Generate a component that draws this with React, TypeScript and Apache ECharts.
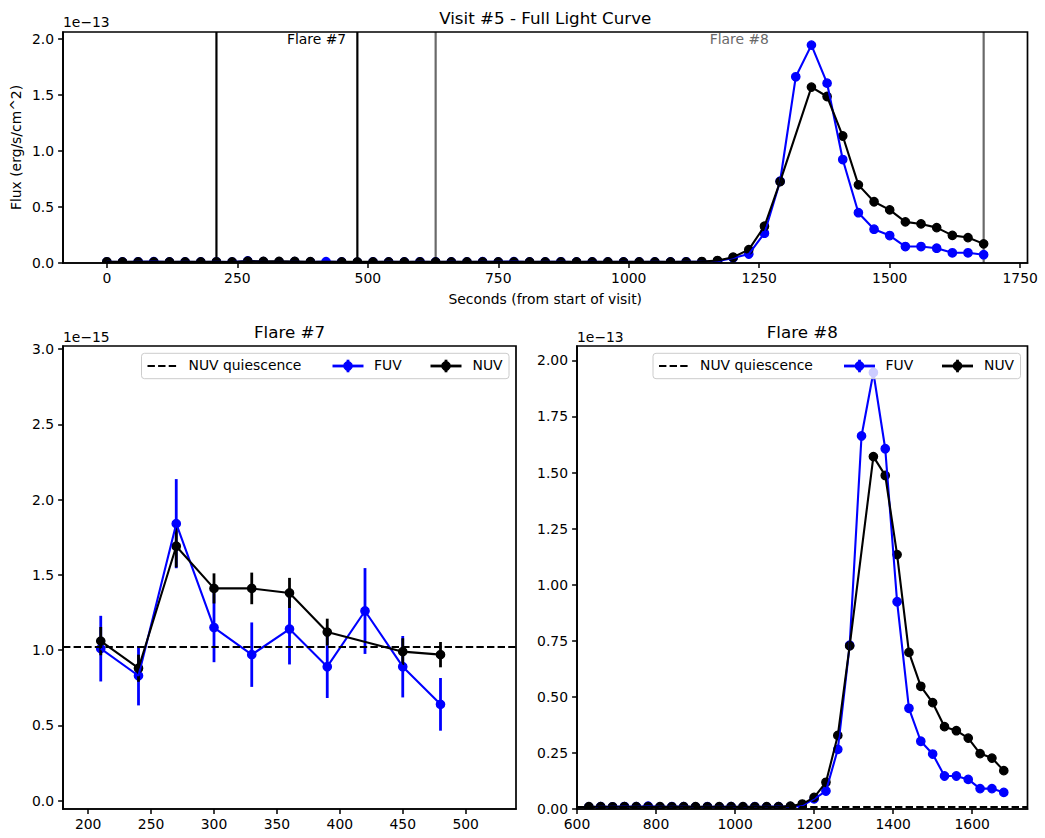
import React, { useEffect, useRef } from "react";
import * as echarts from "echarts";

// ---------- data (flux in units of 1e-15 erg/s/cm^2) ----------
const times = [
  0, 30, 60, 90, 120, 150, 180, 210, 240, 270, 300, 330, 360, 390, 420, 450, 480,
  510, 540, 570, 600, 630, 660, 690, 720, 750, 780, 810, 840, 870, 900, 930, 960,
  990, 1020, 1050, 1080, 1110, 1140, 1170, 1200, 1230, 1260, 1290, 1320, 1350, 1380,
  1410, 1440, 1470, 1500, 1530, 1560, 1590, 1620, 1650, 1680,
];
const fuvFlux = [
  1.0, 0.95, 1.05, 1.2, 0.9, 1.0, 0.95, 1.01, 0.83, 1.84, 1.15, 0.97, 1.14, 0.89, 1.26, 0.89, 0.64,
  0.9, 1.0, 0.95, 1.05, 0.9, 1.0, 0.95, 1.1, 1.0, 1.25, 0.95, 1.0, 1.05, 0.9, 1.0, 0.95,
  1.0, 0.9, 1.0, 0.95, 1.05, 1.0, 1.5, 4.5, 8.0, 26.6, 73.0, 166.3, 194.6, 160.6,
  92.4, 44.9, 30.2, 24.5, 14.7, 14.7, 13.2, 9.1, 9.1, 7.4,
];
const nuvFlux: (number | null)[] = [
  1.05, 1.0, 1.02, 1.0, 1.03, 0.98, 1.0, 1.06, 0.88, 1.69, 1.41, 1.41, 1.38, 1.12, null, 0.99, 0.97,
  1.0, 1.02, 0.98, 1.0, 1.02, 1.0, 0.99, 1.01, 1.03, 1.0, 1.02, 0.98, 1.04, 1.0, 0.99, 1.03,
  1.0, 1.01, 0.98, 1.0, 1.02, 1.3, 2.2, 5.2, 11.9, 32.8, 72.7, null, 157.1, 148.7,
  113.4, 69.8, 54.7, 47.4, 36.7, 34.9, 31.6, 24.7, 22.7, 17.1,
];
// errors for the Flare #7 window (210..480 s), 1e-15 units
const fuvErr7 = [0.218, 0.197, 0.296, 0.23, 0.214, 0.235, 0.208, 0.285, 0.204, 0.175];
const nuvErr7: (number | null)[] = [0.094, 0.09, 0.14, 0.1, 0.105, 0.1, 0.089, null, 0.089, 0.084];
const nuvQuiescence = 1.02;
const flare7Bounds = [210, 480];
const flare8Bounds = [630, 1680];
const flareNames = ["Flare #7", "Flare #8"];

const topXTicks = [0, 250, 500, 750, 1000, 1250, 1500, 1750];
const topYTicks = [0, 0.5, 1.0, 1.5, 2.0];
const f7XTicks = [200, 250, 300, 350, 400, 450, 500];
const f7YTicks = [0, 0.5, 1.0, 1.5, 2.0, 2.5, 3.0];
const f8XTicks = [600, 800, 1000, 1200, 1400, 1600];
const f8YTicks = [0, 0.25, 0.5, 0.75, 1.0, 1.25, 1.5, 1.75, 2.0];

// ---------- styling ----------
const FONT = '"DejaVu Sans", sans-serif';
const BLUE = "#0000ff";
const BLACK = "#000000";
const GRAY = "#696969";
const TICK_FS = 13.9;
const SPINE_W = 1.7;

const G0 = { left: 63, top: 32, width: 964.5, height: 231 };
const G1 = { left: 63, top: 346, width: 453, height: 463 };
const G2 = { left: 577, top: 346, width: 450.5, height: 463 };

const toE13 = (v: number) => v / 100;

function pairs(xs: number[], ys: (number | null)[], f: (v: number) => number, lo = -Infinity, hi = Infinity) {
  const out: number[][] = [];
  xs.forEach((x, i) => {
    const y = ys[i];
    if (y != null && x >= lo && x <= hi) out.push([x, f(y)]);
  });
  return out;
}

function axis(gi: number, min: number, max: number, ticks: number[], fmt: (v: number) => string, isX: boolean) {
  return {
    type: "value",
    gridIndex: gi,
    min,
    max,
    z: 50,
    axisLine: { show: true, onZero: false, lineStyle: { color: BLACK, width: SPINE_W } },
    axisTick: { show: true, inside: false, length: 4.9, customValues: ticks, lineStyle: { color: BLACK, width: 1.5 } },
    axisLabel: {
      show: true,
      customValues: ticks,
      margin: isX ? 8 : 9,
      color: BLACK,
      fontSize: TICK_FS,
      fontFamily: FONT,
      formatter: (v: number) => fmt(v),
    },
    splitLine: { show: false },
  };
}

function lineSeries(ai: number, data: number[][], color: string, extra: any = {}) {
  return {
    type: "line",
    xAxisIndex: ai,
    yAxisIndex: ai,
    data,
    symbol: "none",
    showSymbol: false,
    clip: true,
    silent: true,
    lineStyle: { color, width: 2.1 },
    ...extra,
  };
}

function markerSeries(ai: number, data: number[][], color: string) {
  return {
    type: "custom",
    xAxisIndex: ai,
    yAxisIndex: ai,
    data,
    clip: true,
    silent: true,
    renderItem: (_p: any, api: any) => {
      const p = api.coord([api.value(0), api.value(1)]);
      return {
        type: "circle",
        shape: { cx: p[0], cy: p[1], r: 4.2 },
        style: { fill: color, stroke: color, lineWidth: 1.3 },
      };
    },
  };
}

function errSeries(ai: number, data: number[][], color: string) {
  return {
    type: "custom",
    xAxisIndex: ai,
    yAxisIndex: ai,
    data,
    clip: true,
    silent: true,
    renderItem: (_p: any, api: any) => {
      const t = api.value(0);
      const v = api.value(1);
      const e = api.value(2);
      const a = api.coord([t, v - e]);
      const b = api.coord([t, v + e]);
      return {
        type: "line",
        shape: { x1: a[0], y1: a[1], x2: b[0], y2: b[1] },
        style: { stroke: color, lineWidth: 2.8 },
      };
    },
  };
}

function vlineSeries(ai: number, xs: number[], color: string) {
  return {
    type: "custom",
    xAxisIndex: ai,
    yAxisIndex: ai,
    data: xs.map((x) => [x, 0]),
    silent: true,
    renderItem: (params: any, api: any) => {
      const x = api.coord([api.value(0), 0])[0];
      const cs = params.coordSys;
      return {
        type: "line",
        shape: { x1: x, y1: cs.y, x2: x, y2: cs.y + cs.height },
        style: { stroke: color, lineWidth: 2.2 },
      };
    },
  };
}

function flareLabelSeries(ai: number, x: number, y: number, name: string, color: string) {
  return {
    type: "custom",
    xAxisIndex: ai,
    yAxisIndex: ai,
    data: [[x, y]],
    silent: true,
    z: 5,
    renderItem: (_p: any, api: any) => {
      const p = api.coord([api.value(0), api.value(1)]);
      return {
        type: "text",
        x: p[0],
        y: p[1],
        style: {
          text: name,
          fill: color,
          fontSize: TICK_FS,
          fontFamily: FONT,
          textAlign: "left",
          textVerticalAlign: "middle",
        },
      };
    },
  };
}

function txt(text: string, x: number, y: number, size: number, align = "center", extra: any = {}) {
  return {
    type: "text",
    x,
    y,
    z: 120,
    zlevel: 1,
    silent: true,
    ...extra,
    style: { text, fill: BLACK, fontSize: size, fontFamily: FONT, textAlign: align, textVerticalAlign: "middle" },
  };
}

function spine(g: { left: number; top: number; width: number; height: number }) {
  return {
    type: "rect",
    z: 100,
    zlevel: 1,
    silent: true,
    shape: { x: g.left, y: g.top, width: g.width, height: g.height },
    style: { fill: "none", stroke: BLACK, lineWidth: SPINE_W },
  };
}

function legendGraphic(right: number, top: number) {
  const w = 367.5;
  const h = 25.4;
  const x0 = right - w;
  const cy = top + h / 2;
  const ty = cy - 0.7;
  const els: any[] = [
    {
      type: "rect",
      z: 110,
      zlevel: 1,
      silent: true,
      shape: { x: x0, y: top, width: w, height: h, r: 3 },
      style: { fill: "rgba(255,255,255,0.8)", stroke: "#cccccc", lineWidth: 1 },
    },
    {
      type: "line",
      z: 111,
      zlevel: 1,
      silent: true,
      shape: { x1: x0 + 6, y1: cy, x2: x0 + 36, y2: cy },
      style: { stroke: BLACK, lineWidth: 2.1, lineDash: [7.4, 3.2] },
    },
    txt("NUV quiescence", x0 + 47, ty, TICK_FS, "left", { z: 111 }),
  ];
  const items: [string, string, number, number][] = [
    ["FUV", BLUE, 191, 232.5],
    ["NUV", BLACK, 289, 331],
  ];
  items.forEach(([name, color, lx, tx]) => {
    const mx = x0 + lx + 15.5;
    els.push(
      { type: "line", z: 111, zlevel: 1, silent: true, shape: { x1: x0 + lx, y1: cy, x2: x0 + lx + 31, y2: cy }, style: { stroke: color, lineWidth: 2.8 } },
      { type: "line", z: 111, zlevel: 1, silent: true, shape: { x1: mx, y1: cy - 6.3, x2: mx, y2: cy + 6.3 }, style: { stroke: color, lineWidth: 2.8 } },
      { type: "circle", z: 112, zlevel: 1, silent: true, shape: { cx: mx, cy, r: 4.2 }, style: { fill: color, stroke: color, lineWidth: 1.3 } },
      txt(name, x0 + tx, ty, TICK_FS, "left", { z: 111 })
    );
  });
  return els;
}

function buildOption() {
  const fuvTop = pairs(times, fuvFlux, toE13);
  const nuvTop = pairs(times, nuvFlux, toE13);

  const w7Times = times.filter((t) => t >= flare7Bounds[0] && t <= flare7Bounds[1]);
  const fuv7: number[][] = [];
  const nuv7: number[][] = [];
  const fuvE7: number[][] = [];
  const nuvE7: number[][] = [];
  w7Times.forEach((t, k) => {
    const i = times.indexOf(t);
    fuv7.push([t, fuvFlux[i]]);
    fuvE7.push([t, fuvFlux[i], fuvErr7[k]]);
    const n = nuvFlux[i];
    const ne = nuvErr7[k];
    if (n != null) {
      nuv7.push([t, n]);
      if (ne != null) nuvE7.push([t, n, ne]);
    }
  });

  const fuv8 = pairs(times, fuvFlux, toE13, flare8Bounds[0], flare8Bounds[1]);
  const nuv8 = pairs(times, nuvFlux, toE13, flare8Bounds[0], flare8Bounds[1]);

  const mark = (q: number) => ({
    silent: true,
    symbol: ["none", "none"],
    label: { show: false },
    lineStyle: { color: BLACK, type: [7.4, 3.2], width: 2.1 },
    data: [{ yAxis: q }],
  });

  const f1 = (v: number) => v.toFixed(1);
  const f2 = (v: number) => v.toFixed(2);
  const f0 = (v: number) => String(Math.round(v));

  const elements = [
    spine(G0),
    spine(G1),
    spine(G2),
    txt("Visit #5 - Full Light Curve", G0.left + G0.width / 2, 17.5, 16.7),
    txt("Flare #7", G1.left + G1.width / 2, 331.5, 16.7),
    txt("Flare #8", G2.left + G2.width / 2, 331.5, 16.7),
    txt("1e\u221213", G0.left, 22.3, TICK_FS, "left"),
    txt("1e\u221215", G1.left, 337, TICK_FS, "left"),
    txt("1e\u221213", G2.left, 337, TICK_FS, "left"),
    txt("Seconds (from start of visit)", G0.left + G0.width / 2, 299.3, TICK_FS),
    txt("Flux (erg/s/cm^2)", 15.8, G0.top + G0.height / 2, TICK_FS, "center", { rotation: Math.PI / 2 }),
    ...legendGraphic(G1.left + G1.width - 7, G1.top + 7.3),
    ...legendGraphic(G2.left + G2.width - 7, G2.top + 7.3),
  ];

  return {
    animation: false,
    backgroundColor: "#ffffff",
    textStyle: { fontFamily: FONT },
    grid: [
      { ...G0, show: false, outerBoundsMode: "none" },
      { ...G1, show: false, outerBoundsMode: "none" },
      { ...G2, show: false, outerBoundsMode: "none" },
    ],
    xAxis: [
      axis(0, -84, 1764, topXTicks, f0, true),
      axis(1, 180, 540, f7XTicks, f0, true),
      axis(2, 600, 1740, f8XTicks, f0, true),
    ],
    yAxis: [
      axis(0, 0, 2.063, topYTicks, f1, false),
      axis(1, -0.055, 3.02, f7YTicks, f1, false),
      axis(2, 0, 2.064, f8YTicks, f2, false),
    ],
    series: [
      // full light curve
      vlineSeries(0, flare7Bounds, BLACK),
      vlineSeries(0, flare8Bounds, GRAY),
      lineSeries(0, fuvTop, BLUE),
      markerSeries(0, fuvTop, BLUE),
      lineSeries(0, nuvTop, BLACK),
      markerSeries(0, nuvTop, BLACK),
      flareLabelSeries(0, (flare7Bounds[0] + flare7Bounds[1]) / 2, 2.0, flareNames[0], BLACK),
      flareLabelSeries(0, (flare8Bounds[0] + flare8Bounds[1]) / 2, 2.0, flareNames[1], GRAY),
      // flare #7
      errSeries(1, fuvE7, BLUE),
      lineSeries(1, fuv7, BLUE),
      markerSeries(1, fuv7, BLUE),
      errSeries(1, nuvE7, BLACK),
      lineSeries(1, nuv7, BLACK, { markLine: mark(nuvQuiescence) }),
      markerSeries(1, nuv7, BLACK),
      // flare #8
      lineSeries(2, fuv8, BLUE),
      markerSeries(2, fuv8, BLUE),
      lineSeries(2, nuv8, BLACK, { markLine: mark(toE13(nuvQuiescence)) }),
      markerSeries(2, nuv8, BLACK),
    ],
    graphic: { z: 100, zlevel: 1, elements },
  };
}

export default function App() {
  const ref = useRef<HTMLDivElement>(null);
  useEffect(() => {
    if (!ref.current) return;
    const chart = echarts.init(ref.current, undefined, { renderer: "svg" });
    chart.setOption(buildOption() as any);
    return () => chart.dispose();
  }, []);
  return (
    <div
      ref={ref}
      style={{ position: "absolute", left: 0, top: 0, width: 1045, height: 838, background: "#fff" }}
    />
  );
}
